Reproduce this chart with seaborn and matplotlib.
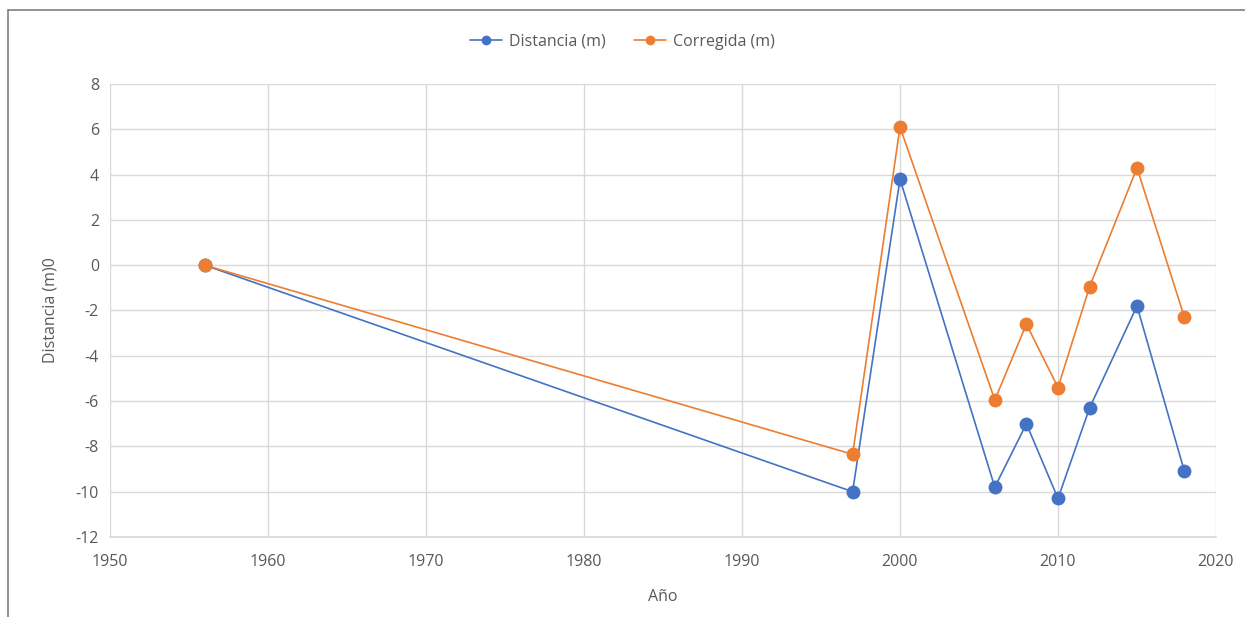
"""
Distancia vs. Corregida por año (estilo gráfico de Excel).
"""

import matplotlib.pyplot as plt
import pandas as pd
import seaborn as sns
from matplotlib.lines import Line2D

years = [1956, 1997, 2000, 2006, 2008, 2010, 2012, 2015, 2018]
distancia = [0.0, -10.0, 3.8, -9.8, -7.0, -10.3, -6.3, -1.8, -9.1]
corregida = [0.0, -8.35, 6.1, -5.95, -2.6, -5.4, -0.95, 4.3, -2.3]
series_names = ["Distancia (m)", "Corregida (m)"]
series_colors = ["#4472C4", "#ED7D31"]
x_ticks = list(range(1950, 2021, 10))
y_ticks = list(range(-12, 9, 2))

df = pd.concat(
    [
        pd.DataFrame({"Año": years, "valor": distancia, "serie": series_names[0]}),
        pd.DataFrame({"Año": years, "valor": corregida, "serie": series_names[1]}),
    ],
    ignore_index=True,
)

sns.set_theme(style="white")
plt.rcParams["font.family"] = ["Open Sans", "DejaVu Sans"]
plt.rcParams["axes.unicode_minus"] = False
text_color = "#595959"

fig = plt.figure(figsize=(12.45, 6.17), dpi=100)
ax = fig.add_axes([110 / 1245, 1 - 537 / 617, (1216 - 110) / 1245, (537 - 84) / 617])

sns.lineplot(
    data=df,
    x="Año",
    y="valor",
    hue="serie",
    hue_order=series_names,
    palette=series_colors,
    marker="o",
    markersize=10,
    markeredgewidth=0,
    linewidth=1.2,
    sort=False,
    legend=False,
    ax=ax,
)

ax.set_xlim(1950, 2020)
ax.set_ylim(-12, 8)
ax.set_xticks(x_ticks)
ax.set_yticks(y_ticks)
ax.grid(True, color="#D9D9D9", linewidth=1)
ax.set_axisbelow(True)
for side in ["top", "right", "left"]:
    ax.spines[side].set_visible(False)
ax.spines["bottom"].set_color("#D9D9D9")
ax.tick_params(axis="both", length=0, labelsize=11.5, colors=text_color, pad=8)
ax.tick_params(axis="x", pad=12)
ax.set_xlabel("Año", fontsize=11.5, color=text_color, labelpad=14)
ax.set_ylabel("Distancia (m)0", fontsize=11.5, color=text_color, labelpad=12)

handles = [
    Line2D([], [], color=c, marker="o", markersize=7, markeredgewidth=0, linewidth=1.2)
    for c in series_colors
]
fig.legend(
    handles,
    series_names,
    loc="center",
    bbox_to_anchor=(0.5, 1 - 42 / 617),
    ncol=2,
    frameon=False,
    fontsize=11.5,
    labelcolor=text_color,
    handlelength=2.0,
    handletextpad=0.4,
    columnspacing=1.8,
)

# chart frame (left and top edges visible in the screenshot)
fig.add_artist(Line2D([8 / 1245, 8 / 1245], [0, 1 - 10 / 617], color="#7F7F7F", linewidth=1.2))
fig.add_artist(Line2D([8 / 1245, 1], [1 - 10 / 617, 1 - 10 / 617], color="#7F7F7F", linewidth=1.2))

fig.savefig("out.png", dpi=100)
